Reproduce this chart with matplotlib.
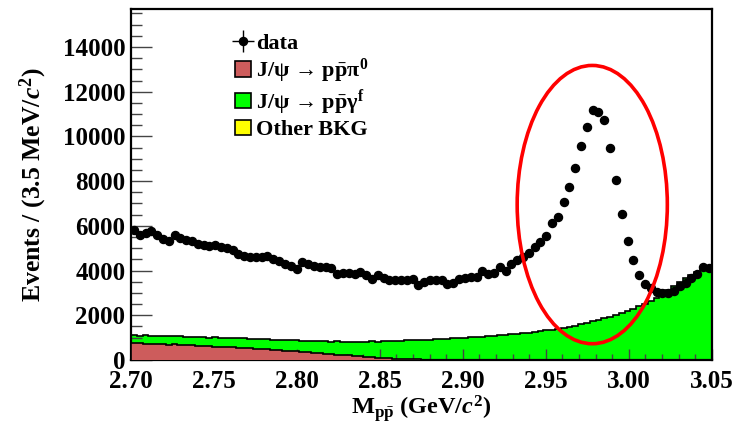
import numpy as np
import matplotlib
matplotlib.use("Agg")
import matplotlib.pyplot as plt
from matplotlib.patches import Ellipse, Patch
from matplotlib.ticker import MultipleLocator, FormatStrFormatter

# ─── DATA (100 bins of 3.5 MeV) ─────────────────────────────────────────────

bin_edges = np.linspace(2.70, 3.05, 101)
bin_centers = 0.5 * (bin_edges[:-1] + bin_edges[1:])

data_counts = [
    5830, 5610, 5690, 5760, 5610, 5390, 5320, 5610, 5440, 5350,
    5320, 5200, 5130, 5100, 5150, 5060, 5030, 4910, 4730, 4660,
    4620, 4590, 4620, 4660, 4500, 4410, 4290, 4220, 4070, 4370,
    4290, 4220, 4180, 4150, 4110, 3860, 3900, 3880, 3850, 3920,
    3780, 3640, 3780, 3670, 3590, 3560, 3560, 3560, 3630, 3360,
    3500, 3590, 3560, 3560, 3410, 3440, 3600, 3660, 3700, 3730,
    3970, 3850, 3880, 4150, 3970, 4290, 4470, 4590, 4800, 5070,
    5290, 5560, 6130, 6390, 7060, 7720, 8600, 9570, 10410, 11200,
    11110, 10720, 9480, 8030, 6530, 5340, 4450, 3790, 3400, 3200,
    3060, 2980, 3000, 3100, 3300, 3450, 3650, 3850, 4150, 4100,
]

# top of the MC stack (pi0 + gamma_f + other)
mc_total = [
    1100, 1090, 1100, 1080, 1070, 1080, 1060, 1050, 1060, 1040,
    1030, 1040, 1020, 1000, 1010, 990, 980, 990, 970, 960,
    950, 940, 930, 920, 900, 910, 890, 880, 870, 860,
    850, 840, 850, 830, 820, 830, 810, 800, 820, 810,
    820, 830, 820, 840, 850, 850, 860, 870, 880, 890,
    900, 910, 920, 940, 950, 960, 980, 990, 1010, 1020,
    1040, 1060, 1080, 1100, 1120, 1140, 1160, 1190, 1210, 1240,
    1290, 1330, 1360, 1400, 1440, 1490, 1540, 1600, 1660, 1720,
    1790, 1860, 1930, 2010, 2100, 2190, 2300, 2420, 2500, 2640,
    2790, 2950, 3120, 3300, 3480, 3660, 3820, 3950, 4050, 4120,
]

# J/psi -> p pbar pi0 component
mc_pi0 = [
    760, 740, 720, 730, 720, 700, 690, 700, 680, 660,
    650, 640, 630, 610, 600, 590, 570, 560, 550, 530,
    520, 500, 480, 470, 450, 430, 420, 400, 380, 360,
    340, 320, 300, 280, 260, 240, 220, 200, 180, 160,
    140, 120, 100, 90, 70, 60, 50, 40, 30, 20,
    15, 10, 8, 5, 3, 2, 1, 0, 0, 0,
    0, 0, 0, 0, 0, 0, 0, 0, 0, 0,
    0, 0, 0, 0, 0, 0, 0, 0, 0, 0,
    0, 0, 0, 0, 0, 0, 0, 0, 0, 0,
    0, 0, 0, 0, 0, 0, 0, 0, 0, 0,
]

x_ticks = [2.70, 2.75, 2.80, 2.85, 2.90, 2.95, 3.00, 3.05]

# ─── STYLE ──────────────────────────────────────────────────────────────────

SERIF = ["Liberation Serif", "DejaVu Serif"]
plt.rcParams["font.family"] = SERIF
plt.rcParams["font.weight"] = "bold"
plt.rcParams["mathtext.fontset"] = "custom"
plt.rcParams["mathtext.rm"] = "Liberation Serif:bold"
plt.rcParams["mathtext.it"] = "Liberation Serif:italic:bold"
plt.rcParams["mathtext.bf"] = "Liberation Serif:bold"

RED = "#cd5c5c"
GREEN = "#00ff00"
YELLOW = "#ffff00"

fig = plt.figure(figsize=(7.36, 4.29), dpi=100)
ax = fig.add_axes([0.178, 0.161, 0.789, 0.818])

# ─── STACKED MC ─────────────────────────────────────────────────────────────

ax.stairs(mc_total, bin_edges, fill=True, color=GREEN, zorder=1)
ax.stairs(mc_total, bin_edges, color="black", lw=1.2, zorder=2)
ax.stairs(mc_pi0, bin_edges, fill=True, color=RED, zorder=3)
ax.stairs(mc_pi0, bin_edges, color="black", lw=1.2, zorder=4)

# ─── DATA ───────────────────────────────────────────────────────────────────

data_arr = np.array(data_counts, dtype=float)
ax.errorbar(bin_centers, data_arr, yerr=np.sqrt(data_arr), xerr=0.00175,
            fmt="o", color="black", ms=5.8, elinewidth=1, capsize=0, zorder=5,
            label="data")

# highlight of the eta_c peak
ax.add_patch(Ellipse((2.978, 6950), width=0.0905, height=12450, fill=False,
                     ec="red", lw=2.6, zorder=6))

# ─── AXES ───────────────────────────────────────────────────────────────────

ax.set_xlim(2.70, 3.05)
ax.set_ylim(0, 15700)
ax.set_xticks(x_ticks)
ax.xaxis.set_major_formatter(FormatStrFormatter("%.2f"))
ax.xaxis.set_minor_locator(MultipleLocator(0.01))
ax.yaxis.set_major_locator(MultipleLocator(2000))
ax.yaxis.set_minor_locator(MultipleLocator(500))

ax.tick_params(axis="both", which="both", direction="in", labelsize=18,
               width=1, color="#444444")
ax.tick_params(axis="y", which="major", length=15, pad=4)
ax.tick_params(axis="y", which="minor", length=8)
ax.tick_params(axis="x", which="major", length=8, pad=7)
ax.tick_params(axis="x", which="minor", length=4)
for lab in ax.get_xticklabels() + ax.get_yticklabels():
    lab.set_fontweight("bold")
    lab.set_family(SERIF)
for sp in ax.spines.values():
    sp.set_linewidth(1.6)

ax.set_xlabel(r"M$_{\mathrm{p\bar{p}}}$ (GeV/$c^{2}$)", fontsize=17.5,
              fontweight="bold", labelpad=0)
ax.set_ylabel(r"Events / (3.5 MeV/$c^{2}$)", fontsize=18.5, fontweight="bold",
              labelpad=10)

# ─── LEGEND ─────────────────────────────────────────────────────────────────

handles, labels = ax.get_legend_handles_labels()
handles += [
    Patch(fc=RED, ec="black", lw=1.2),
    Patch(fc=GREEN, ec="black", lw=1.2),
    Patch(fc=YELLOW, ec="black", lw=1.2),
]
labels += [
    r"J/ψ → p$\bar{\mathrm{p}}$π$^{0}$",
    r"J/ψ → p$\bar{\mathrm{p}}$γ$^{\mathrm{f}}$",
    "Other BKG",
]
ax.legend(handles, labels, loc="upper left", bbox_to_anchor=(0.152, 0.975),
          frameon=False, handlelength=0.75, handleheight=0.7,
          handletextpad=0.2, labelspacing=0.12, borderpad=0.2,
          prop={"family": SERIF, "weight": "bold", "size": 16})

fig.savefig("out.png", dpi=100)
